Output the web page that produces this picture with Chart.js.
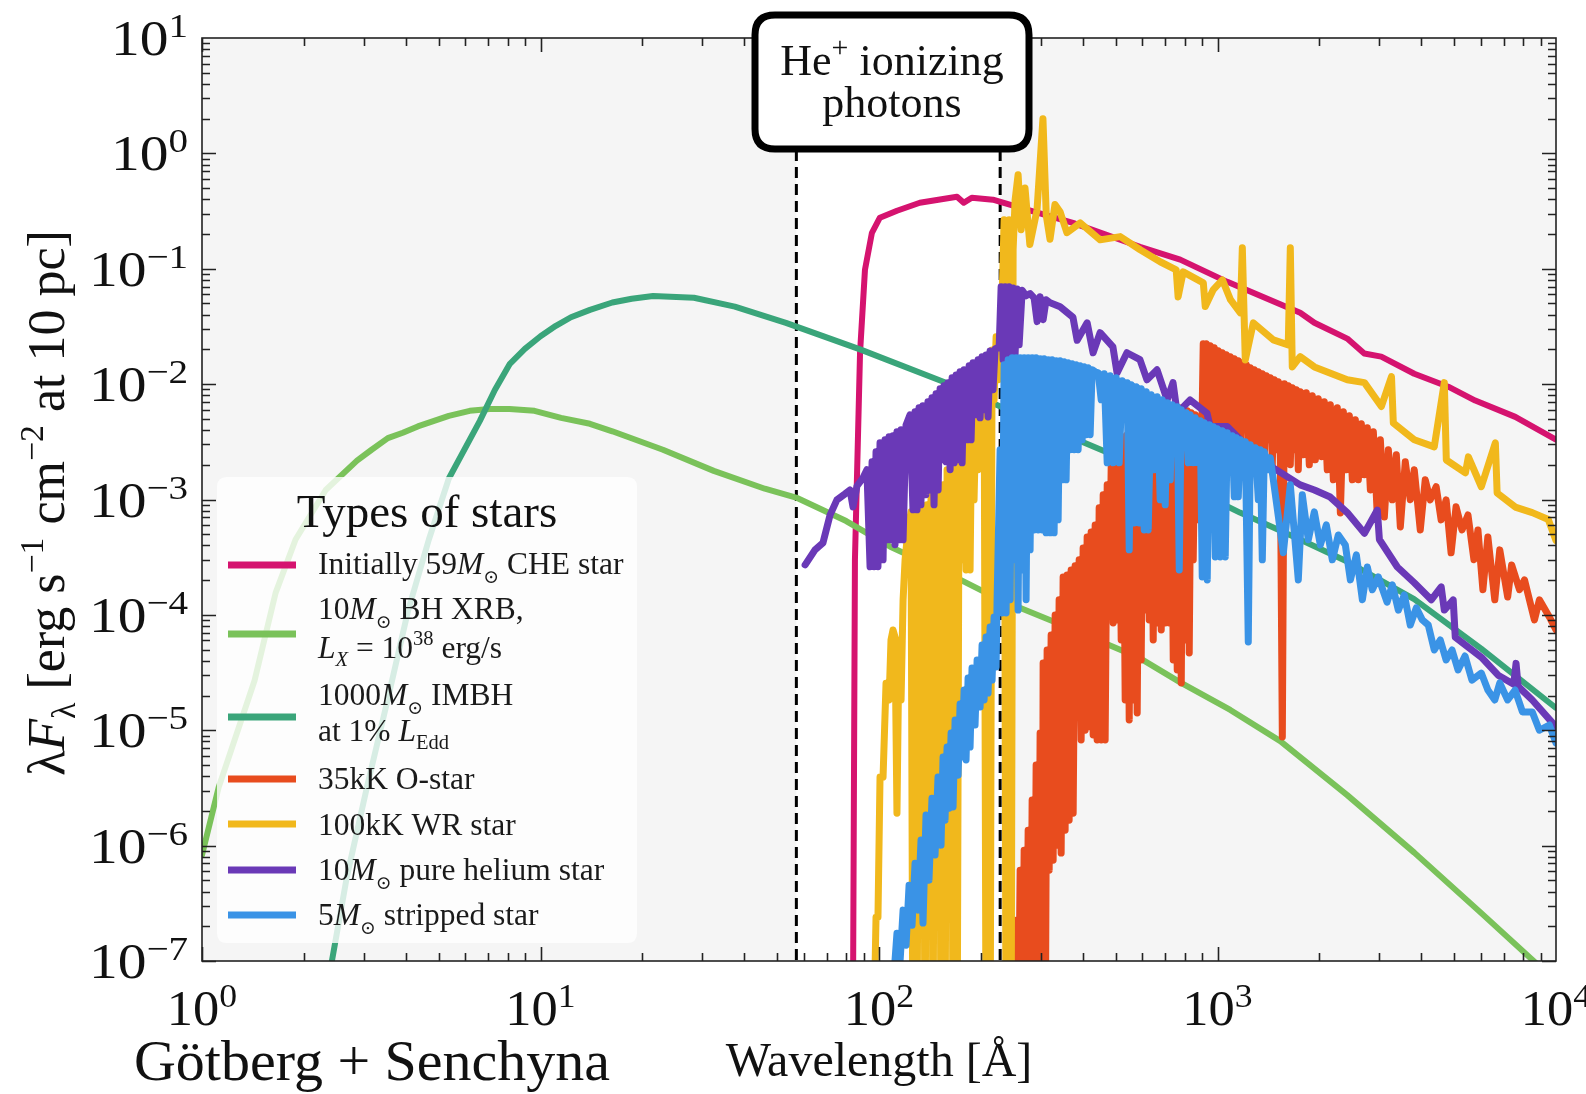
<!DOCTYPE html>
<html><head><meta charset="utf-8">
<script src="https://cdn.jsdelivr.net/npm/chart.js@4/dist/chart.umd.min.js"></script>
<style>html,body{margin:0;padding:0;background:#fff;}canvas{display:block;}</style>
</head><body>
<canvas id="c" width="1586" height="1094"></canvas>
<script>
// ---------------- DATA: [wavelength (Angstrom), lambda*F_lambda] ----------------
const cheSpectrum = [[83.6,1e-8],[84.9,3.0e-4],[87.9,1.87e-2],[90.9,0.098],[95.3,0.205],[100.6,0.277],[113,0.318],[132,0.373],[170,0.421],[178,0.373],[188,0.413],[217,0.397],[249,0.352],[374,0.25],[590,0.155],[776,0.12],[1069,0.077],[1755,0.0415],[1933,0.034],[2417,0.0248],[2714,0.0184],[3046,0.0173],[3813,0.0123],[4805,0.0095],[5774,0.0072],[7581,0.0052],[10000,0.0033]];

const xrbSpectrum = [[1,8.3e-7],[1.12,3.2e-6],[1.43,2.7e-5],[1.65,1.55e-4],[1.89,4.5e-4],[2.32,1.21e-3],[2.87,2.17e-3],[3.17,2.7e-3],[3.54,3.4e-3],[3.92,3.79e-3],[4.34,4.3e-3],[5.36,5.3e-3],[6.18,5.87e-3],[7.08,6.1e-3],[8.1,6.1e-3],[9.6,5.87e-3],[11.5,5.1e-3],[14.0,4.53e-3],[16.3,3.9e-3],[23.0,2.7e-3],[32.5,1.77e-3],[46.0,1.24e-3],[56.9,1.04e-3],[80,6.5e-4],[108,3.9e-4],[159,2.3e-4],[228,1.35e-4],[336,8.5e-5],[591,4.2e-5],[776,2.6e-5],[1091,1.5e-5],[1533,8.05e-6],[2417,2.74e-6],[3813,8.7e-7],[6016,2.6e-7],[8860,9.2e-8],[10000,6.2e-8]];

const imbhSpectrum = [[2.36,5e-8],[2.42,1e-7],[2.68,5.4e-7],[3.07,3.2e-6],[3.54,1.87e-5],[4.06,1.08e-4],[4.68,4.5e-4],[5.36,1.52e-3],[6.62,4.8e-3],[7.33,8.9e-3],[8.12,1.5e-2],[8.99,2.02e-2],[10.0,2.6e-2],[11.1,3.2e-2],[12.3,3.8e-2],[14.0,4.4e-2],[16.3,5.1e-2],[18.6,5.5e-2],[21.5,5.8e-2],[28.4,5.6e-2],[37.5,4.7e-2],[53.1,3.4e-2],[87.9,2.0e-2],[155,1.05e-2],[367,3.5e-3],[515,2.3e-3],[888,1.14e-3],[1165,7.7e-4],[1753,4.5e-4],[2415,2.9e-4],[3810,1.37e-4],[6010,5.1e-5],[10000,1.56e-5]];

const ostarSpectrum = [[250.8,1e-8],[254.2,2.26e-7],[257.6,1e-8],[261.2,6.13e-7],[264.8,1e-8],[268.4,9.14e-7],[272.0,1e-8],[275.8,1.36e-6],[279.5,1e-8],[283.4,2.48e-6],[287.2,1e-8],[291.2,4.99e-6],[295.2,1e-8],[299.2,9.46e-6],[303.3,1e-8],[305.4,3.83e-5],[309.6,1e-8],[313.8,4.96e-5],[318.2,6.13e-7],[322.5,6.69e-5],[326.9,7.48e-7],[331.4,9.97e-5],[335.9,1.01e-6],[340.5,1.35e-4],[345.2,8.61e-7],[349.9,2.13e-4],[354.7,1.36e-6],[359.6,2.22e-4],[364.5,1.66e-6],[369.5,2.45e-4],[374.6,1.91e-6],[379.7,2.66e-4],[384.9,2.1e-5],[390.2,3.0e-4],[395.5,8.22e-6],[400.9,3.8e-4],[406.4,1.0e-5],[412.0,4.74e-4],[417.6,1.07e-5],[423.4,5.24e-4],[429.2,9.09e-6],[435.1,6.02e-4],[441.0,8.22e-6],[447.1,8.47e-4],[453.3,8.22e-6],[459.5,1.1e-3],[465.7,8.22e-6],[472.2,1.34e-3],[478.6,1.04e-4],[485.2,1.92e-3],[491.8,8.5e-5],[498.6,2.44e-3],[505.4,9.04e-5],[512.4,2.81e-3],[519.4,6.06e-5],[526.5,3.5e-3],[533.7,1.83e-5],[541.0,3.64e-3],[548.5,1.23e-5],[556.0,3.79e-3],[563.6,1.83e-5],[571.3,3.86e-3],[579.1,1.41e-5],[587.1,3.94e-3],[595.1,4.07e-5],[603.3,3.94e-3],[611.5,1.1e-4],[619.9,4.02e-3],[628.4,9.04e-5],[637.1,4.02e-3],[645.8,6.06e-5],[654.6,4.27e-3],[663.6,8.5e-5],[672.7,4.63e-3],[682.0,7.39e-5],[691.3,4.82e-3],[700.7,8.5e-5],[710.3,5.22e-3],[720.1,8.5e-5],[730.0,5.43e-3],[740.0,4.07e-5],[750.1,5.76e-3],[760.4,3.33e-5],[770.9,6.24e-3],[781.5,2.57e-5],[792.2,6.12e-3],[802.8,6.06e-5],[813.9,5.88e-3],[825.0,4.67e-5],[836.3,5.65e-3],[847.8,3.0e-4],[859.4,5.43e-3],[871.2,6.66e-4],[883.2,5.11e-3],[895.2,1.81e-3],[907.5,0.02236],[913.8,2.21e-3],[926.3,0.02236],[939.1,2.44e-3],[951.7,0.0215],[964.9,4.91e-3],[978.0,0.02064],[991.5,2.7e-3],[1005.0,0.01944],[1018.8,3.29e-3],[1032.8,0.01869],[1047.0,2.7e-3],[1061.3,0.01795],[1075.9,4.02e-3],[1090.7,0.01726],[1105.6,2.7e-3],[1120.9,0.0166],[1136.3,3.29e-3],[1151.9,0.01596],[1167.6,2.44e-3],[1183.7,0.01533],[1199.8,4.02e-3],[1216.3,0.01473],[1232.9,2.44e-3],[1249.9,0.01387],[1267.1,3.29e-3],[1284.3,0.01333],[1301.9,2.21e-3],[1320.0,0.01281],[1337.9,2.98e-3],[1356.3,0.01231],[1374.9,2.21e-3],[1393.7,0.01183],[1413.0,3.29e-3],[1432.2,0.01136],[1451.8,2.0e-3],[1471.7,0.01092],[1491.9,2.7e-3],[1512.3,0.01049],[1533.2,2.21e-3],[1554.2,8.73e-6],[1575.5,0.01008],[1597.1,2.44e-3],[1618.9,9.69e-3],[1640.8,2.0e-3],[1663.3,9.3e-3],[1686.1,2.7e-3],[1709.2,8.94e-3],[1732.6,1.81e-3],[1756.4,8.59e-3],[1792.6,2.44e-3],[1829.5,8.42e-3],[1867.2,2.0e-3],[1905.6,7.93e-3],[1944.8,2.21e-3],[1984.9,7.47e-3],[2025.8,2.35e-3],[2067.5,7.04e-3],[2110.1,1.81e-3],[2154.4,6.63e-3],[2198.8,1.48e-3],[2259.3,6.24e-3],[2306.5,7.65e-4],[2353.9,5.76e-3],[2402.4,1.81e-3],[2451.9,5.32e-3],[2502.4,1.48e-3],[2553.9,4.91e-3],[2606.5,1.48e-3],[2660.2,4.54e-3],[2715.0,1.64e-3],[2770.9,4.19e-3],[2828.6,1.21e-3],[2886.9,3.86e-3],[2966.3,7.06e-4],[3028.0,3.29e-3],[3111.4,7.06e-4],[3197.0,2.7e-3],[3284.9,9.93e-4],[3375.3,2.44e-3],[3468.2,5.79e-4],[3587.4,2.12e-3],[3710.8,9.93e-4],[3812.9,1.81e-3],[3971.9,5.45e-4],[4108.6,1.48e-3],[4249.4,9.93e-4],[4425.8,1.29e-3],[4578.1,6.66e-4],[4735.6,9.93e-4],[4898.4,3.45e-4],[5066.8,8.64e-4],[5276.5,5.45e-4],[5495.0,7.35e-4],[5722.3,3.0e-4],[5879.6,5.45e-4],[6082.2,1.65e-4],[6291.0,4.74e-4],[6594.1,1.35e-4],[6821.3,3.66e-4],[7198.0,1.43e-4],[7394.5,2.71e-4],[7802.3,1.65e-4],[8071.1,2.01e-4],[8635.2,9.04e-5],[8932.0,1.35e-4],[9559.0,9.58e-5],[10000,7.39e-5]];

const wrSpectrum = [[96.0,1e-8],[98.0,2.4e-7],[99.3,2.4e-7],[100.7,3.93e-6],[102.8,3.93e-6],[104.9,2.56e-5],[107.1,1.83e-5],[108.5,6.05e-5],[110.0,7.4e-5],[111.5,6.43e-5],[113.0,1.91e-6],[114.6,6.05e-5],[116.2,1.83e-5],[117.8,1.35e-4],[119.4,3.0e-4],[121.0,4.47e-4],[122.7,6.03e-4],[124.3,7.81e-4],[126.0,1e-8],[127.8,7.81e-4],[129.5,1e-8],[131.3,8.13e-4],[133.0,1.83e-5],[134.8,8.13e-4],[136.8,1e-8],[138.6,8.99e-4],[140.5,9.04e-5],[142.5,1.10e-3],[144.4,1e-8],[146.4,1.14e-3],[148.4,2.01e-4],[150.5,1.21e-3],[152.5,1e-8],[154.6,1.34e-3],[156.7,1e-8],[158.9,1.81e-3],[161.1,1.35e-4],[163.3,1.92e-3],[165.5,1e-8],[167.8,1.92e-3],[170.1,1e-8],[172.4,2.43e-3],[174.8,3.0e-4],[177.2,4.02e-3],[180.8,2.45e-4],[183.3,5.64e-3],[185.8,2.45e-4],[188.3,8.41e-3],[190.9,9.93e-4],[193.5,5.64e-3],[196.2,1.81e-3],[198.9,7.31e-3],[201.6,4.02e-3],[204.4,1.53e-2],[207.2,1e-8],[210.0,1.53e-2],[212.9,1e-8],[215.8,1.98e-2],[218.8,7.31e-3],[221.8,0.0257],[224.9,1.089e-2],[227.9,0.0242],[231.0,0.0538],[234.2,0.266],[237.4,1e-8],[242.3,0.266],[245.6,1e-8],[249.0,0.146],[252.4,0.396],[257.6,0.653],[263,0.218],[270,0.50],[279,0.162],[293,0.324],[305,2.0],[312,0.29],[320,0.18],[331,0.36],[343,0.31],[359,0.205],[393,0.25],[450,0.178],[516,0.19],[591,0.146],[677,0.115],[755,0.098],[765,0.057],[792,0.094],[908,0.0755],[920,0.047],[972,0.066],[1034,0.080],[1092,0.054],[1168,0.0415],[1184,0.152],[1208,0.0162],[1276,0.034],[1462,0.0242],[1618,0.0219],[1641,0.152],[1663,0.0141],[1755,0.0173],[1933,0.0141],[2417,0.0109],[2717,0.0103],[3049,6.4e-3],[3266,0.0116],[3307,4.6e-3],[3813,3.3e-3],[4368,2.86e-3],[4678,0.0103],[4742,2.2e-3],[5400,1.7e-3],[5510,2.34e-3],[6016,1.29e-3],[6620,3.1e-3],[6700,1.14e-3],[7580,8.6e-4],[8510,7.7e-4],[9490,6.7e-4],[10000,4.4e-4]];

const heStarSpectrum = [[60.5,2.71e-4],[64.7,3.66e-4],[68.3,4.21e-4],[71.7,7.36e-4],[75.1,9.93e-4],[79.4,1.12e-3],[82.1,1.21e-3],[83.8,8.63e-4],[86.1,1.31e-3],[89.7,1.54e-3],[92.1,1.81e-3],[94.1,2.61e-4],[95.4,2.12e-3],[96.7,2.61e-4],[98.0,2.59e-3],[99.3,2.61e-4],[100.7,3.10e-3],[102.8,3.0e-4],[104.2,3.29e-3],[105.6,4.47e-4],[107.1,3.49e-3],[108.5,4.47e-4],[110.0,3.57e-3],[111.5,4.05e-4],[113.0,3.86e-3],[114.6,4.47e-4],[116.2,4.02e-3],[117.8,4.47e-4],[120.2,4.43e-3],[123.5,5.42e-3],[126.0,8.13e-4],[127.8,5.76e-3],[129.5,8.13e-4],[131.3,6.23e-3],[133.0,8.99e-4],[134.8,6.48e-3],[137.6,1.10e-3],[139.5,7.02e-3],[141.5,1.21e-3],[143.4,7.61e-3],[145.4,8.99e-4],[147.4,8.24e-3],[149.5,1.21e-3],[151.5,9.11e-3],[153.6,2.21e-3],[155.6,9.66e-3],[157.8,2.12e-3],[159.9,1.03e-2],[162.2,1.81e-3],[164.4,1.133e-2],[166.7,2.08e-3],[169.0,1.20e-2],[171.3,2.21e-3],[173.6,1.28e-2],[176.0,2.08e-3],[178.4,1.33e-2],[182.1,3.29e-3],[184.6,1.44e-2],[187.1,3.29e-3],[189.6,1.53e-2],[193.5,5.42e-3],[196.2,1.625e-2],[198.9,5.10e-3],[201.6,1.725e-2],[204.4,5.99e-3],[207.2,1.79e-2],[210.0,5.20e-3],[212.9,1.94e-2],[217.2,8.93e-3],[220.3,2.02e-2],[223.3,2.06e-2],[226.4,2.06e-2],[229.5,0.0698],[232.7,1.625e-2],[235.8,0.0698],[239.0,1.79e-2],[242.3,0.0698],[245.6,1.625e-2],[249.0,0.068],[252.4,1.79e-2],[255.9,0.0666],[259.4,0.0219],[264.8,0.065],[272.0,0.0583],[279.5,0.061],[287.2,0.056],[293.2,0.0348],[299.2,0.0571],[305.4,0.0362],[311.7,0.0538],[320.3,0.0507],[331.4,0.0488],[342.8,0.0468],[374,0.038],[385,0.024],[412,0.034],[429,0.0187],[450,0.0279],[491,0.021],[505,0.0125],[540,0.0187],[590,0.0163],[619,0.0109],[663,0.0133],[710,7.3e-3],[739,0.0103],[760,5.6e-3],[830,7.3e-3],[931,5.6e-3],[951,4.3e-3],[1068,4.3e-3],[1168,3.3e-3],[1276,2.5e-3],[1462,1.88e-3],[1755,1.34e-3],[1933,1.21e-3],[2153,1.05e-3],[2417,7.7e-4],[2717,5.1e-4],[2966,8.1e-4],[3008,4.5e-4],[3398,2.6e-4],[3813,1.9e-4],[4281,1.35e-4],[4580,1.75e-4],[4677,1.1e-4],[4970,1.35e-4],[5040,6.4e-5],[6016,4.3e-5],[6745,3.0e-5],[7500,2.5e-5],[7620,3.8e-5],[7730,2.4e-5],[8510,1.83e-5],[10000,1.07e-5]];

const strippedSpectrum = [[110.7,7.5e-8],[113.0,1.74e-7],[115.4,9.9e-8],[117.8,2.76e-7],[120.2,1.37e-7],[122.7,4.54e-7],[125.2,2.04e-7],[127.8,7.05e-7],[130.4,2.76e-7],[133.1,1.12e-6],[134.9,2.13e-7],[137.7,1.84e-6],[140.5,5.02e-7],[143.4,2.58e-6],[146.4,8.28e-7],[149.4,3.93e-6],[152.5,1.01e-6],[154.6,5.86e-6],[156.7,1.66e-6],[158.9,7.15e-6],[161.1,2.11e-6],[163.3,9.46e-6],[165.5,2.16e-6],[167.8,1.23e-5],[171.3,4.08e-6],[173.6,1.69e-5],[176.0,5.86e-6],[178.4,2.23e-5],[180.8,5.52e-6],[183.3,2.84e-5],[185.8,7.15e-6],[188.3,3.47e-5],[192.2,1.11e-5],[194.9,4.07e-5],[198.9,1.59e-5],[201.6,5.48e-5],[204.4,1.83e-5],[207.2,6.43e-5],[210.0,2.1e-5],[212.9,7.85e-5],[215.8,2.72e-5],[218.8,9.58e-5],[221.8,3.53e-5],[223.3,1.35e-4],
  [227.9,0.0027],[231.0,1.04e-4],[234.2,0.01473],[237.4,1.04e-4],[240.7,0.01628],[244.0,1.35e-4],[247.4,0.01694],[250.8,3.0e-4],[254.2,0.01694],[257.6,1.1e-4],[261.2,0.01694],[264.8,2.45e-4],[268.4,0.01694],[272.0,1.35e-4],[275.8,0.01694],[279.5,3.66e-4],[283.4,0.01694],[287.2,5.45e-4],[291.2,0.01694],[295.2,5.45e-4],[299.2,0.0166],[303.3,5.45e-4],[307.5,0.0166],[311.7,5.14e-4],[316.0,0.01628],[320.3,5.14e-4],[324.7,0.01628],[329.1,5.14e-4],[333.7,0.01596],[338.2,6.66e-4],[342.8,0.01596],[347.5,1.48e-3],[352.3,0.01564],[357.1,1.48e-3],[362.0,0.01533],[367.0,2.7e-3],[372.0,0.01502],[377.1,2.7e-3],[382.3,0.01473],[387.5,2.7e-3],[392.8,0.01443],[398.2,3.29e-3],[403.7,0.01415],[409.2,3.64e-3],[414.8,0.01387],[420.5,3.64e-3],[426.3,0.01333],[435.1,0.01281],[444.1,0.01256],[453.3,7.32e-3],[462.6,0.01231],[472.2,2.08e-3],[481.9,0.01183],[491.8,2.08e-3],[502.0,0.01136],[512.4,2.08e-3],[522.9,0.0107],[533.7,7.32e-3],[541.0,0.01028],[548.5,3.66e-4],[556.0,9.88e-3],[567.4,6.27e-4],[575.2,9.5e-3],[587.1,6.27e-4],[595.1,9.12e-3],[607.4,5.45e-4],[615.8,8.59e-3],[624.2,5.45e-4],[637.1,8.09e-3],[650.2,1.81e-3],[663.6,7.77e-3],[677.2,9.93e-4],[686.5,7.32e-3],[700.7,8.99e-4],[710.3,6.9e-3],[725.0,1.48e-3],[735.0,6.63e-3],[750.1,4.91e-3],[760.4,6.37e-3],[770.9,2.45e-4],[781.5,6.0e-3],[797.4,3.29e-3],[808.5,5.65e-3],[819.6,2.08e-3],[830.6,5.43e-3],[847.8,2.08e-3],[859.4,5.11e-3],[877.1,2.08e-3],[889.2,4.82e-3],[901.4,2.13e-4],[913.8,4.63e-3],[932.6,2.01e-4],[945.5,4.45e-3],[958.5,2.7e-3],[971.7,4.27e-3],[984.7,3.18e-4],[998.3,4.1e-3],[1018.8,3.18e-4],[1032.8,3.94e-3],[1054.1,3.18e-4],[1068.6,3.79e-3],[1090.7,2.21e-3],[1105.6,3.57e-3],[1120.9,1.055e-3],[1136.3,3.43e-3],[1151.9,1.055e-3],[1167.6,3.29e-3],[1191.7,1.81e-3],[1208.0,3.17e-3],[1232.9,5.82e-5],[1249.9,2.98e-3],[1275.7,1.81e-3],[1293.3,2.81e-3],[1320.0,9.93e-4],[1337.9,2.7e-3],[1356.3,3.0e-4],[1374.9,2.59e-3],[1413.0,1.81e-3],[1432.2,2.3e-3],
  [1564.8,3.45e-4],[1640.8,1.34e-3],[1732.6,2.01e-4],[1780.4,1.1e-3],[1854.5,4.47e-4],[1931.9,7.81e-4],[2012.6,4.04e-4],[2096.2,6.02e-4],[2183.9,3.0e-4],[2275.0,4.93e-4],[2386.0,4.04e-4],[2469.2,2.01e-4],[2572.0,3.31e-4],[2679.0,1.35e-4],[2770.9,2.6e-4],[2866.0,1.65e-4],[2986.5,2.13e-4],[3168.8,1.29e-4],[3284.9,1.82e-4],[3422.0,1.1e-4],[3564.0,1.49e-4],[3710.8,8.17e-5],[3866.0,1.15e-4],[4027.0,9.04e-5],[4194.0,8.17e-5],[4369.0,4.96e-5],[4551.0,6.06e-5],[4735.6,4.07e-5],[4931.0,4.96e-5],[5137.0,3.33e-5],[5385.0,4.4e-5],[5645.0,2.72e-5],[6016.0,3.13e-5],[6291.0,2.23e-5],[6594.1,1.83e-5],[6821.3,2.57e-5],[7198.0,1.83e-5],[7571.0,2.23e-5],[7960.0,1.44e-5],[8510.0,1.44e-5],[8932.0,1.0e-5],[9559.0,1.11e-5],[10000,7.74e-6]];

const xTickVals = [1, 10, 100, 1000, 10000];
const xTickExp  = ['0', '1', '2', '3', '4'];
const yTickVals = [1e-7, 1e-6, 1e-5, 1e-4, 1e-3, 1e-2, 1e-1, 1, 10];
const yTickExp  = ['\u22127', '\u22126', '\u22125', '\u22124', '\u22123', '\u22122', '\u22121', '0', '1'];
const heIonEdges = [57, 228];   // dashed lines bounding the He+ ionizing band (Angstrom)

// ---------------- STYLE ----------------
const FONT = "'Liberation Serif','DejaVu Serif',serif";
const COLORS = {che:'#d5136f', xrb:'#7ac25a', imbh:'#3aa57a', ostar:'#e84c1e', wr:'#f1b81c', he:'#6a39b7', str:'#3a93e6'};

function ds(label, spec, color, width, order){
  return {label, data: spec.map(p=>({x:p[0], y:p[1]})), borderColor: color, borderWidth: width, pointRadius: 0,
          fill: false, tension: 0, order, clip: 0, borderJoinStyle: 'round', borderCapStyle: 'round'};
}

function drawRich(ctx, segs, x, y, align, size){
  let total = 0;
  const info = segs.map(s=>{
    const f = (s.it ? 'italic ' : '') + (size*(s.sz||1)).toFixed(1) + 'px ' + FONT;
    ctx.font = f; const w = ctx.measureText(s.t).width; total += w; return {f, w};
  });
  let cx = align === 'center' ? x - total/2 : (align === 'right' ? x - total : x);
  ctx.textAlign = 'left'; ctx.textBaseline = 'alphabetic';
  segs.forEach((s,i)=>{ ctx.font = info[i].f; ctx.fillText(s.t, cx, y + (s.dy||0)*size); cx += info[i].w; });
  return total;
}

function roundRect(ctx, x, y, w, h, r){
  ctx.beginPath();
  ctx.moveTo(x+r, y); ctx.lineTo(x+w-r, y); ctx.quadraticCurveTo(x+w, y, x+w, y+r);
  ctx.lineTo(x+w, y+h-r); ctx.quadraticCurveTo(x+w, y+h, x+w-r, y+h);
  ctx.lineTo(x+r, y+h); ctx.quadraticCurveTo(x, y+h, x, y+h-r);
  ctx.lineTo(x, y+r); ctx.quadraticCurveTo(x, y, x+r, y); ctx.closePath();
}

const decor = {
  id: 'decor',
  beforeDatasetsDraw(chart){
    const {ctx, chartArea: a, scales: {x}} = chart;
    ctx.save();
    ctx.fillStyle = '#ffffff'; ctx.fillRect(0, 0, chart.width, chart.height);
    ctx.fillStyle = '#f5f5f5'; ctx.fillRect(a.left, a.top, a.right-a.left, a.bottom-a.top);
    const b0 = x.getPixelForValue(heIonEdges[0]), b1 = x.getPixelForValue(heIonEdges[1]);
    ctx.fillStyle = '#ffffff'; ctx.fillRect(b0, a.top, b1-b0, a.bottom-a.top);
    ctx.strokeStyle = '#000'; ctx.lineWidth = 3; ctx.setLineDash([11, 6]);
    [b0, b1].forEach(px=>{ ctx.beginPath(); ctx.moveTo(px, 150); ctx.lineTo(px, a.bottom); ctx.stroke(); });
    ctx.restore();
  },
  afterDraw(chart){
    const {ctx, chartArea: a, scales: {x, y}} = chart;
    ctx.save();
    ctx.strokeStyle = '#222'; ctx.lineWidth = 1.6; ctx.setLineDash([]);
    ctx.strokeRect(a.left, a.top, a.right-a.left, a.bottom-a.top);
    for (let k = 0; k < 4; k++) for (let m = 1; m <= 9; m++) {
      const px = Math.round(x.getPixelForValue(m * Math.pow(10, k))) + 0.5; const L = m === 1 ? 14 : 8;
      ctx.beginPath(); ctx.moveTo(px, a.bottom); ctx.lineTo(px, a.bottom - L); ctx.moveTo(px, a.top); ctx.lineTo(px, a.top + L); ctx.stroke();
    }
    for (let k = -7; k < 1; k++) for (let m = 1; m <= 9; m++) {
      const py = Math.round(y.getPixelForValue(m * Math.pow(10, k))) + 0.5; const L = m === 1 ? 14 : 8;
      ctx.beginPath(); ctx.moveTo(a.left, py); ctx.lineTo(a.left + L, py); ctx.moveTo(a.right, py); ctx.lineTo(a.right - L, py); ctx.stroke();
    }
    ctx.fillStyle = '#111';
    const TS = 50;
    xTickVals.forEach((v,i)=>{
      ctx.save(); ctx.translate(x.getPixelForValue(v), 1025); ctx.scale(1.05, 1);
      drawRich(ctx, [{t:'10'}, {t:xTickExp[i], sz:0.68, dy:-0.36}], 0, 0, 'center', TS);
      ctx.restore();
    });
    yTickVals.forEach((v,i)=>{
      ctx.save(); ctx.translate(188, y.getPixelForValue(v) + 17); ctx.scale(1.15, 1);
      drawRich(ctx, [{t:'10'}, {t:yTickExp[i], sz:0.68, dy:-0.36}], 0, 0, 'right', TS);
      ctx.restore();
    });
    drawRich(ctx, [{t:'Wavelength [\u00c5]'}], 879, 1076, 'center', 48);
    ctx.save(); ctx.translate(64, 503); ctx.rotate(-Math.PI/2);
    drawRich(ctx, [{t:'\u03bb'}, {t:'F', it:1}, {t:'\u03bb', sz:0.65, dy:0.22}, {t:' [erg s'}, {t:'\u22121', sz:0.65, dy:-0.4},
                   {t:' cm'}, {t:'\u22122', sz:0.65, dy:-0.4}, {t:' at 10 pc]'}], 0, 0, 'center', 52);
    ctx.restore();
    drawRich(ctx, [{t:'G\u00f6tberg + Senchyna'}], 372, 1080, 'center', 58);

    // legend
    ctx.fillStyle = 'rgba(255,255,255,0.8)';
    roundRect(ctx, 217, 477, 420, 466, 10); ctx.fill();
    ctx.fillStyle = '#111';
    drawRich(ctx, [{t:'Types of stars'}], 427, 527, 'center', 47);
    const LS = 31.5, tx = 318;
    const sun = {t:'\u2299', sz:0.6, dy:0.3};
    const entries = [
      {c: COLORS.che,  hy: 565, lines: [[{t:'Initially 59'}, {t:'M', it:1}, sun, {t:' CHE star'}]], by:[574]},
      {c: COLORS.xrb,  hy: 634, lines: [[{t:'10'}, {t:'M', it:1}, sun, {t:' BH XRB,'}],
                                        [{t:'L', it:1}, {t:'X', it:1, sz:0.65, dy:0.25}, {t:' = 10'}, {t:'38', sz:0.65, dy:-0.42}, {t:' erg/s'}]], by:[619, 658]},
      {c: COLORS.imbh, hy: 717, lines: [[{t:'1000'}, {t:'M', it:1}, sun, {t:' IMBH'}],
                                        [{t:'at 1% '}, {t:'L', it:1}, {t:'Edd', sz:0.65, dy:0.25}]], by:[705, 741]},
      {c: COLORS.ostar, hy: 779, lines: [[{t:'35kK O-star'}]], by:[789]},
      {c: COLORS.wr,   hy: 824, lines: [[{t:'100kK WR star'}]], by:[835]},
      {c: COLORS.he,   hy: 870, lines: [[{t:'10'}, {t:'M', it:1}, sun, {t:' pure helium star'}]], by:[880]},
      {c: COLORS.str,  hy: 915, lines: [[{t:'5'}, {t:'M', it:1}, sun, {t:' stripped star'}]], by:[925]}
    ];
    entries.forEach(e=>{
      ctx.strokeStyle = e.c; ctx.lineWidth = 7;
      ctx.beginPath(); ctx.moveTo(228, e.hy); ctx.lineTo(296, e.hy); ctx.stroke();
      ctx.fillStyle = '#1a1a1a';
      e.lines.forEach((ln, j)=> drawRich(ctx, ln, tx, e.by[j], 'left', LS));
    });

    // He+ box
    ctx.fillStyle = '#fff'; ctx.strokeStyle = '#000'; ctx.lineWidth = 7;
    roundRect(ctx, 755, 15, 274, 134, 20); ctx.fill(); ctx.stroke();
    ctx.fillStyle = '#111';
    drawRich(ctx, [{t:'He'}, {t:'+', sz:0.68, dy:-0.42}, {t:' ionizing'}], 892, 75, 'center', 44);
    drawRich(ctx, [{t:'photons'}], 892, 117, 'center', 44);
    ctx.restore();
  }
};

new Chart(document.getElementById('c'), {
  type: 'line',
  data: { datasets: [
    ds('5M stripped star', strippedSpectrum, COLORS.str, 7, 0),
    ds('10M pure helium star', heStarSpectrum, COLORS.he, 7, 1),
    ds('100kK WR star', wrSpectrum, COLORS.wr, 7, 2),
    ds('35kK O-star', ostarSpectrum, COLORS.ostar, 7, 3),
    ds('1000M IMBH', imbhSpectrum, COLORS.imbh, 6, 4),
    ds('10M BH XRB', xrbSpectrum, COLORS.xrb, 6, 5),
    ds('Initially 59M CHE star', cheSpectrum, COLORS.che, 6, 6)
  ]},
  options: {
    responsive: false, animation: false, devicePixelRatio: 1,
    layout: { padding: {left: 202, right: 30, top: 38, bottom: 133} },
    plugins: { legend: {display: false}, tooltip: {enabled: false} },
    scales: {
      x: { type: 'logarithmic', min: 1, max: 10000, display: false },
      y: { type: 'logarithmic', min: 1e-7, max: 10, display: false }
    }
  },
  plugins: [decor]
});
</script>
</body></html>
